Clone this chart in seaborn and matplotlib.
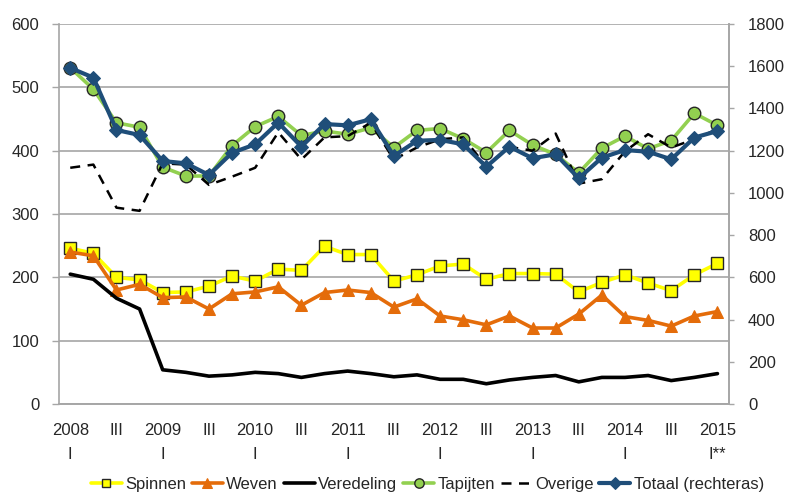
import matplotlib
matplotlib.use("Agg")
import matplotlib.pyplot as plt
import seaborn as sns
import pandas as pd
import numpy as np
from matplotlib.ticker import FixedLocator, FixedFormatter

# ---- data (quarterly, 2008 I .. 2015 I) ----
quarters = list(range(29))
tick_labels = ["2008\nI", "III", "2009\nI", "III", "2010\nI", "III", "2011\nI", "III",
               "2012\nI", "III", "2013\nI", "III", "2014\nI", "III", "2015\nI**"]
spinnen = [246, 238, 200, 196, 176, 177, 186, 202, 194, 213, 211, 249, 236, 236, 194,
           204, 218, 221, 197, 206, 206, 205, 177, 192, 204, 191, 179, 204, 222]
weven = [240, 234, 180, 189, 168, 169, 150, 174, 177, 185, 156, 176, 180, 176, 153,
         166, 139, 133, 125, 139, 120, 120, 142, 172, 138, 132, 123, 139, 146]
veredeling = [205, 197, 167, 150, 54, 50, 44, 46, 50, 48, 42, 48, 52, 48, 43,
              46, 39, 39, 32, 38, 42, 45, 35, 42, 42, 45, 37, 42, 48]
tapijten = [531, 497, 444, 437, 374, 360, 360, 408, 438, 454, 424, 431, 426, 436, 405,
            432, 435, 419, 397, 432, 409, 394, 365, 404, 423, 403, 416, 459, 440]
overige = [373, 378, 310, 305, 380, 378, 346, 359, 373, 429, 386, 421, 423, 444, 386,
           405, 418, 421, 375, 406, 400, 427, 348, 355, 399, 426, 405, 418, 434]
totaal = [1592, 1546, 1298, 1274, 1151, 1140, 1085, 1190, 1230, 1333, 1219, 1326, 1320, 1349, 1175,
          1247, 1251, 1230, 1124, 1219, 1164, 1183, 1069, 1167, 1203, 1195, 1159, 1262, 1293]

df = pd.DataFrame({"q": quarters, "Spinnen": spinnen, "Weven": weven,
                   "Veredeling": veredeling, "Tapijten": tapijten,
                   "Overige": overige, "Totaal": totaal})

sns.set_style("white")
plt.rcParams["font.family"] = ["Liberation Sans", "DejaVu Sans"]
plt.rcParams["font.size"] = 12

fig = plt.figure(figsize=(7.9, 4.97), dpi=100)
ax = fig.add_axes([0.0743, 0.1871, 0.8485, 0.7646])
ax2 = ax.twinx()

lw = 2.6
ms = 8.5
edge = "#262626"

sns.lineplot(data=df, x="q", y="Spinnen", ax=ax, color="#FFFF00", lw=lw, marker="s",
             markersize=ms, markerfacecolor="#FFFF00", markeredgecolor=edge,
             markeredgewidth=1.0, label="Spinnen", zorder=3)
sns.lineplot(data=df, x="q", y="Weven", ax=ax, color="#E46C0A", lw=lw, marker="^",
             markersize=ms + 0.5, markerfacecolor="#E46C0A", markeredgecolor="#E46C0A",
             label="Weven", zorder=3)
sns.lineplot(data=df, x="q", y="Veredeling", ax=ax, color="black", lw=lw,
             label="Veredeling", zorder=3)
sns.lineplot(data=df, x="q", y="Tapijten", ax=ax, color="#92D050", lw=lw, marker="o",
             markersize=ms + 0.5, markerfacecolor="#92D050", markeredgecolor=edge,
             markeredgewidth=1.0, label="Tapijten", zorder=3)
sns.lineplot(data=df, x="q", y="Overige", ax=ax, color="black", lw=1.8,
             label="Overige", zorder=3)
ax.lines[-1].set_dashes([4, 3])
sns.lineplot(data=df, x="q", y="Totaal", ax=ax2, color="#1F4E79", lw=lw + 0.4, marker="D",
             markersize=ms - 1, markerfacecolor="#1F4E79", markeredgecolor="#1F4E79",
             label="Totaal (rechteras)", zorder=3)

grid_c = "#A6A6A6"
ax.set_xlim(-0.5, 28.5)
ax.set_ylim(0, 600)
ax2.set_ylim(0, 1800)
ax.set_yticks(range(0, 601, 100))
ax2.set_yticks(range(0, 1801, 200))
ax.yaxis.grid(True, color=grid_c, lw=1.2)
ax.set_axisbelow(True)

ax.xaxis.set_major_locator(FixedLocator(list(range(0, 29, 2))))
ax.xaxis.set_major_formatter(FixedFormatter(tick_labels))
ax.xaxis.set_minor_locator(FixedLocator(list(np.arange(-0.5, 29, 1.0))))
ax.tick_params(axis="x", which="major", length=0, pad=14, labelsize=12)
ax.tick_params(axis="x", which="minor", length=5, color=grid_c, direction="out", width=1)
for t in ax.get_xticklabels():
    t.set_linespacing(1.75)
ax.tick_params(axis="y", length=5, color=grid_c, pad=9, labelsize=12, direction="out", width=1)
ax2.tick_params(axis="y", length=3.6, color=grid_c, pad=10, labelsize=12, direction="out", width=1)

for a in (ax, ax2):
    a.set_xlabel("")
    a.set_ylabel("")
    for s in a.spines.values():
        s.set_color(grid_c)
        s.set_linewidth(1.2)
    a.spines["top"].set_visible(False)
ax2.spines["left"].set_visible(False)

ax.get_legend().remove()
ax2.get_legend().remove()
handles = ax.get_lines()[:5] + ax2.get_lines()[:1]
labels = ["Spinnen", "Weven", "Veredeling", "Tapijten", "Overige", "Totaal (rechteras)"]
fig.legend(handles, labels, loc="center", bbox_to_anchor=(0.541, 0.026), ncol=6,
           frameon=False, fontsize=12, handlelength=1.86, handletextpad=0.2,
           columnspacing=0.35, markerscale=0.75)

fig.savefig("out.png", dpi=100)
